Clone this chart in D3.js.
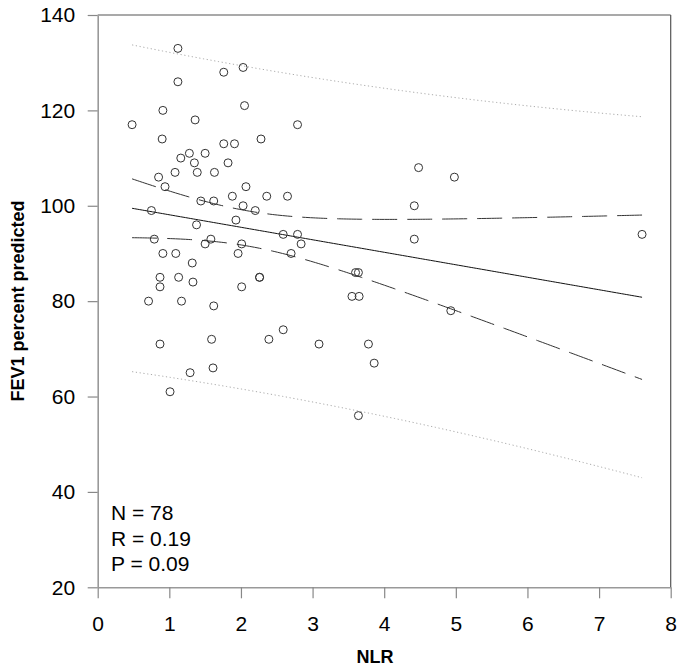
<!DOCTYPE html>
<html><head><meta charset="utf-8">
<script src="https://cdn.jsdelivr.net/npm/d3@7"></script>
<style>body{margin:0;background:#fff} svg{display:block;font-family:Arial,"Liberation Sans",sans-serif}</style>
</head><body><svg id="c" width="683" height="669"></svg>
<script>
// scatter data
const nlr = [1.12,1.76,2.03,1.12,0.91,1.36,2.05,0.48,2.79,0.90,1.76,1.91,2.28,1.16,1.28,1.50,1.35,1.82,0.85,1.08,1.39,1.63,0.94,2.07,
  1.44,1.62,1.88,2.36,2.65,2.03,2.20,0.75,1.38,1.93,2.59,2.79,2.84,0.79,1.58,1.50,2.01,2.70,0.91,1.09,1.96,1.32,0.87,0.87,1.13,1.33,2.26,2.26,2.01,
  0.71,1.17,1.62,0.87,1.59,2.39,2.59,3.09,1.29,1.61,1.01,4.48,4.98,4.42,4.42,3.60,3.64,3.55,3.65,4.93,3.78,3.86,3.64,7.60];
const fev1 = [133,128,129,126,120,118,121,117,117,114,113,113,114,110,111,111,109,109,106,107,107,107,104,104,
  101,101,102,102,102,100,99,99,96,97,94,94,92,93,93,92,92,90,90,90,90,88,85,83,85,84,85,85,83,
  80,80,79,71,72,72,74,71,65,66,61,108,106,100,93,86,86,81,81,78,71,67,56,94];
const xTicks = [0,1,2,3,4,5,6,7,8];
const yTicks = [20,40,60,80,100,120,140];
const statsLines = ["N = 78","R = 0.19","P = 0.09"];
const xTitle = "NLR";
const yTitle = "FEV1 percent predicted";
// fitted regression and band parameters
const fitIntercept = 100.73, fitSlope = -2.62;
const bandCenterX = 2.097, ciBaseVar = 13.6, ciSpreadVar = 9.36, predExtraVar = 1135.5;

const svg = d3.select("#c");
const x = d3.scaleLinear().domain([0,8]).range([97.7,670.7]);
const y = d3.scaleLinear().domain([20,140]).range([587.3,15]);

// frame top & right
svg.append("line").attr("x1",x(0)).attr("x2",x(8)).attr("y1",y(140)).attr("y2",y(140)).attr("stroke","#555").attr("stroke-width",1.2);
svg.append("line").attr("x1",x(8)).attr("x2",x(8)).attr("y1",y(140)).attr("y2",y(20)).attr("stroke","#555").attr("stroke-width",1.2);

const gx = svg.append("g").attr("transform",`translate(0,${y(20)})`)
  .call(d3.axisBottom(x).tickValues(xTicks).tickFormat(d3.format("d")).tickSize(11).tickSizeOuter(0).tickPadding(17.8));
const gy = svg.append("g").attr("transform",`translate(${x(0)},0)`)
  .call(d3.axisLeft(y).tickValues(yTicks).tickFormat(d3.format("d")).tickSize(10).tickSizeOuter(0).tickPadding(12.5));
[gx,gy].forEach(g=>{
  g.select(".domain").attr("stroke","#999").attr("stroke-width",1.6);
  g.selectAll(".tick line").attr("stroke","#888").attr("stroke-width",1.2);
  g.selectAll(".tick text").attr("fill","#000").attr("font-size",21).attr("font-family","Arial, 'Liberation Sans', sans-serif");
});

// curves
const xs = d3.range(0, 201).map(i => d3.min(nlr) + (d3.max(nlr)-d3.min(nlr))*i/200);
const fit = v => fitIntercept + fitSlope*v;
const ci = v => Math.sqrt(ciBaseVar + ciSpreadVar*(v-bandCenterX)**2);
const pi = v => Math.sqrt(predExtraVar + ciBaseVar + ciSpreadVar*(v-bandCenterX)**2);
const line = f => d3.line().x(v=>x(v)).y(v=>y(f(v)))(xs);

svg.append("path").attr("d",line(v=>fit(v)+pi(v))).attr("fill","none").attr("stroke","#aaa").attr("stroke-width",1).attr("stroke-dasharray","1.2,2.6");
svg.append("path").attr("d",line(v=>fit(v)-pi(v))).attr("fill","none").attr("stroke","#aaa").attr("stroke-width",1).attr("stroke-dasharray","1.2,2.6");
svg.append("path").attr("d",line(v=>fit(v)+ci(v))).attr("fill","none").attr("stroke","#333").attr("stroke-width",1).attr("stroke-dasharray","25,10");
svg.append("path").attr("d",line(v=>fit(v)-ci(v))).attr("fill","none").attr("stroke","#333").attr("stroke-width",1).attr("stroke-dasharray","25,10");
svg.append("path").attr("d",line(fit)).attr("fill","none").attr("stroke","#111").attr("stroke-width",1);

// points
svg.append("g").selectAll("circle").data(nlr.map((v,i)=>[v,fev1[i]])).join("circle")
  .attr("cx",d=>x(d[0])).attr("cy",d=>y(d[1])).attr("r",4)
  .attr("fill","none").attr("stroke","#333").attr("stroke-width",1);

// stats
svg.append("g").selectAll("text").data(statsLines).join("text")
  .attr("x",111).attr("y",(d,i)=>520+i*25.5).attr("font-size",21).attr("fill","#000").text(d=>d);

// titles
svg.append("text").attr("x",375).attr("y",663).attr("text-anchor","middle").attr("font-size",18).attr("font-weight","bold").text(xTitle);
svg.append("text").attr("transform","translate(24,301) rotate(-90)").attr("text-anchor","middle").attr("font-size",18).attr("font-weight","bold").text(yTitle);
</script></body></html>
